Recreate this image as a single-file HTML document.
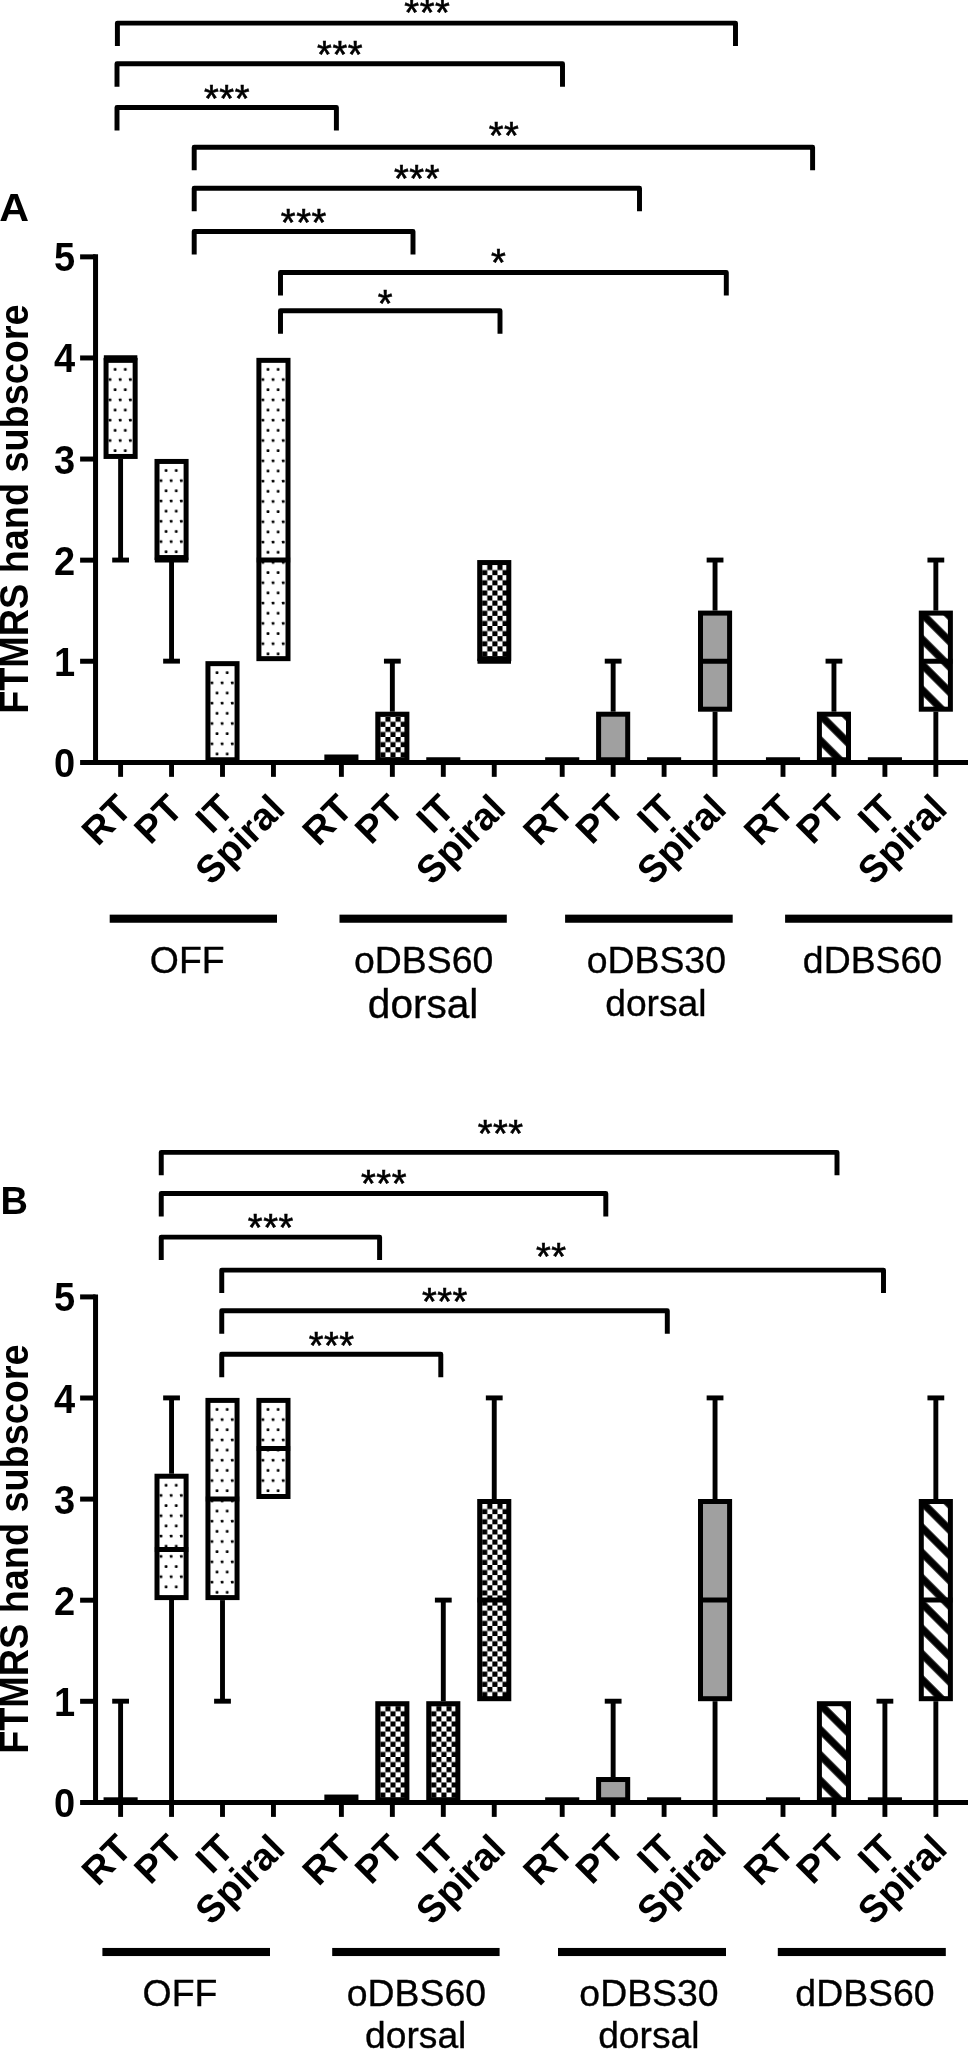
<!DOCTYPE html>
<html lang="en"><head><meta charset="utf-8"><title>FTMRS hand subscore</title>
<style>
html,body{margin:0;padding:0;background:#fff;}
svg{display:block;will-change:transform;font-family:'Liberation Sans', Arial, Helvetica, sans-serif;fill:#000;}
</style></head><body>
<svg width="968" height="2049" viewBox="0 0 968 2049">
<rect width="968" height="2049" fill="#fff"/>
<defs>
<pattern id="p1" patternUnits="userSpaceOnUse" x="107.8" y="363" width="10.16" height="20.32"><rect width="10.16" height="20.32" fill="#fff"/><rect x="5.98" y="4.98" width="2.74" height="2.74" rx="0.6" fill="#000"/><rect x="0.9" y="15.14" width="2.74" height="2.74" rx="0.6" fill="#000"/></pattern>
<pattern id="p2" patternUnits="userSpaceOnUse" x="158.75" y="464.1" width="10.16" height="20.32"><rect width="10.16" height="20.32" fill="#fff"/><rect x="5.98" y="4.98" width="2.74" height="2.74" rx="0.6" fill="#000"/><rect x="0.9" y="15.14" width="2.74" height="2.74" rx="0.6" fill="#000"/></pattern>
<pattern id="p3" patternUnits="userSpaceOnUse" x="209.7" y="666.3" width="10.16" height="20.32"><rect width="10.16" height="20.32" fill="#fff"/><rect x="5.98" y="4.98" width="2.74" height="2.74" rx="0.6" fill="#000"/><rect x="0.9" y="15.14" width="2.74" height="2.74" rx="0.6" fill="#000"/></pattern>
<pattern id="p4" patternUnits="userSpaceOnUse" x="260.65" y="363" width="10.16" height="20.32"><rect width="10.16" height="20.32" fill="#fff"/><rect x="5.98" y="4.98" width="2.74" height="2.74" rx="0.6" fill="#000"/><rect x="0.9" y="15.14" width="2.74" height="2.74" rx="0.6" fill="#000"/></pattern>
<pattern id="p5" patternUnits="userSpaceOnUse" x="380.3" y="716.7" width="10.16" height="10.16"><rect width="10.16" height="10.16" fill="#fff"/><rect x="5.08" y="0" width="5.08" height="5.08" fill="#000"/><rect x="0" y="5.08" width="5.08" height="5.08" fill="#000"/></pattern>
<pattern id="p6" patternUnits="userSpaceOnUse" x="482.2" y="565.05" width="10.16" height="10.16"><rect width="10.16" height="10.16" fill="#fff"/><rect x="5.08" y="0" width="5.08" height="5.08" fill="#000"/><rect x="0" y="5.08" width="5.08" height="5.08" fill="#000"/></pattern>
<pattern id="p7" patternUnits="userSpaceOnUse" width="17.89" height="20" patternTransform="translate(816.9 711.7) rotate(135)"><rect width="17.89" height="20" fill="#fff"/><rect x="0" y="0" width="3.73" height="20" fill="#000"/><rect x="14.16" y="0" width="3.73" height="20" fill="#000"/></pattern>
<pattern id="p8" patternUnits="userSpaceOnUse" width="17.89" height="20" patternTransform="translate(918.8 610.6) rotate(135)"><rect width="17.89" height="20" fill="#fff"/><rect x="0" y="0" width="3.73" height="20" fill="#000"/><rect x="14.16" y="0" width="3.73" height="20" fill="#000"/></pattern>
<pattern id="p9" patternUnits="userSpaceOnUse" x="158.75" y="1478.88" width="10.16" height="20.32"><rect width="10.16" height="20.32" fill="#fff"/><rect x="5.98" y="4.98" width="2.74" height="2.74" rx="0.6" fill="#000"/><rect x="0.9" y="15.14" width="2.74" height="2.74" rx="0.6" fill="#000"/></pattern>
<pattern id="p10" patternUnits="userSpaceOnUse" x="209.7" y="1403.05" width="10.16" height="20.32"><rect width="10.16" height="20.32" fill="#fff"/><rect x="5.98" y="4.98" width="2.74" height="2.74" rx="0.6" fill="#000"/><rect x="0.9" y="15.14" width="2.74" height="2.74" rx="0.6" fill="#000"/></pattern>
<pattern id="p11" patternUnits="userSpaceOnUse" x="260.65" y="1403.05" width="10.16" height="20.32"><rect width="10.16" height="20.32" fill="#fff"/><rect x="5.98" y="4.98" width="2.74" height="2.74" rx="0.6" fill="#000"/><rect x="0.9" y="15.14" width="2.74" height="2.74" rx="0.6" fill="#000"/></pattern>
<pattern id="p12" patternUnits="userSpaceOnUse" x="380.3" y="1706.2" width="10.16" height="10.16"><rect width="10.16" height="10.16" fill="#fff"/><rect x="5.08" y="0" width="5.08" height="5.08" fill="#000"/><rect x="0" y="5.08" width="5.08" height="5.08" fill="#000"/></pattern>
<pattern id="p13" patternUnits="userSpaceOnUse" x="431.25" y="1706.2" width="10.16" height="10.16"><rect width="10.16" height="10.16" fill="#fff"/><rect x="5.08" y="0" width="5.08" height="5.08" fill="#000"/><rect x="0" y="5.08" width="5.08" height="5.08" fill="#000"/></pattern>
<pattern id="p14" patternUnits="userSpaceOnUse" x="482.2" y="1504" width="10.16" height="10.16"><rect width="10.16" height="10.16" fill="#fff"/><rect x="5.08" y="0" width="5.08" height="5.08" fill="#000"/><rect x="0" y="5.08" width="5.08" height="5.08" fill="#000"/></pattern>
<pattern id="p15" patternUnits="userSpaceOnUse" width="17.89" height="20" patternTransform="translate(816.9 1701.2) rotate(135)"><rect width="17.89" height="20" fill="#fff"/><rect x="0" y="0" width="3.73" height="20" fill="#000"/><rect x="14.16" y="0" width="3.73" height="20" fill="#000"/></pattern>
<pattern id="p16" patternUnits="userSpaceOnUse" width="17.89" height="20" patternTransform="translate(918.8 1499) rotate(135)"><rect width="17.89" height="20" fill="#fff"/><rect x="0" y="0" width="3.73" height="20" fill="#000"/><rect x="14.16" y="0" width="3.73" height="20" fill="#000"/></pattern>
</defs>
<line x1="120.6" y1="458.95" x2="120.6" y2="560.05" stroke="#000" stroke-width="4.9"/>
<line x1="112.2" y1="560.05" x2="129" y2="560.05" stroke="#000" stroke-width="4.9"/>
<rect x="106.05" y="360.35" width="29.1" height="96.1" fill="url(#p1)" stroke="#000" stroke-width="5"/>
<line x1="103.85" y1="357.85" x2="137.35" y2="357.85" stroke="#000" stroke-width="5"/>
<line x1="171.55" y1="560.05" x2="171.55" y2="661.15" stroke="#000" stroke-width="4.9"/>
<line x1="163.15" y1="661.15" x2="179.95" y2="661.15" stroke="#000" stroke-width="4.9"/>
<rect x="157" y="461.45" width="29.1" height="96.1" fill="url(#p2)" stroke="#000" stroke-width="5"/>
<line x1="154.8" y1="560.05" x2="188.3" y2="560.05" stroke="#000" stroke-width="5"/>
<rect x="207.95" y="663.65" width="29.1" height="96.1" fill="url(#p3)" stroke="#000" stroke-width="5"/>
<rect x="258.9" y="360.35" width="29.1" height="298.3" fill="url(#p4)" stroke="#000" stroke-width="5"/>
<line x1="256.7" y1="560.05" x2="290.2" y2="560.05" stroke="#000" stroke-width="5"/>
<rect x="324.35" y="754.5" width="34.1" height="7.75" fill="#000"/>
<line x1="392.35" y1="661.15" x2="392.35" y2="711.7" stroke="#000" stroke-width="4.9"/>
<line x1="383.95" y1="661.15" x2="400.75" y2="661.15" stroke="#000" stroke-width="4.9"/>
<rect x="377.8" y="714.2" width="29.1" height="45.55" fill="url(#p5)" stroke="#000" stroke-width="5"/>
<rect x="426.25" y="757.25" width="34.1" height="5" fill="#000"/>
<rect x="479.7" y="562.55" width="29.1" height="96.1" fill="url(#p6)" stroke="#000" stroke-width="5"/>
<line x1="477.5" y1="661.15" x2="511" y2="661.15" stroke="#000" stroke-width="5"/>
<rect x="545.15" y="757.25" width="34.1" height="5" fill="#000"/>
<line x1="613.15" y1="661.15" x2="613.15" y2="711.7" stroke="#000" stroke-width="4.9"/>
<line x1="604.75" y1="661.15" x2="621.55" y2="661.15" stroke="#000" stroke-width="4.9"/>
<rect x="598.6" y="714.2" width="29.1" height="45.55" fill="#a0a0a0" stroke="#000" stroke-width="5"/>
<rect x="647.05" y="757.25" width="34.1" height="5" fill="#000"/>
<line x1="715.05" y1="560.05" x2="715.05" y2="610.6" stroke="#000" stroke-width="4.9"/>
<line x1="706.65" y1="560.05" x2="723.45" y2="560.05" stroke="#000" stroke-width="4.9"/>
<line x1="715.05" y1="711.7" x2="715.05" y2="762.25" stroke="#000" stroke-width="4.9"/>
<rect x="700.5" y="613.1" width="29.1" height="96.1" fill="#a0a0a0" stroke="#000" stroke-width="5"/>
<line x1="698.3" y1="661.15" x2="731.8" y2="661.15" stroke="#000" stroke-width="5"/>
<rect x="765.95" y="757.25" width="34.1" height="5" fill="#000"/>
<line x1="833.95" y1="661.15" x2="833.95" y2="711.7" stroke="#000" stroke-width="4.9"/>
<line x1="825.55" y1="661.15" x2="842.35" y2="661.15" stroke="#000" stroke-width="4.9"/>
<rect x="819.4" y="714.2" width="29.1" height="45.55" fill="url(#p7)" stroke="#000" stroke-width="5"/>
<rect x="867.85" y="757.25" width="34.1" height="5" fill="#000"/>
<line x1="935.85" y1="560.05" x2="935.85" y2="610.6" stroke="#000" stroke-width="4.9"/>
<line x1="927.45" y1="560.05" x2="944.25" y2="560.05" stroke="#000" stroke-width="4.9"/>
<line x1="935.85" y1="711.7" x2="935.85" y2="762.25" stroke="#000" stroke-width="4.9"/>
<rect x="921.3" y="613.1" width="29.1" height="96.1" fill="url(#p8)" stroke="#000" stroke-width="5"/>
<line x1="919.1" y1="661.15" x2="952.6" y2="661.15" stroke="#000" stroke-width="5"/>
<line x1="95.55" y1="254.35" x2="95.55" y2="764.85" stroke="#000" stroke-width="5"/>
<line x1="80.1" y1="762.4" x2="968" y2="762.4" stroke="#000" stroke-width="5"/>
<text transform="translate(75.1 776.85) scale(1 1.07)" font-size="38" font-weight="bold" text-anchor="end">0</text>
<line x1="80.1" y1="661.25" x2="95.5" y2="661.25" stroke="#000" stroke-width="5"/>
<text transform="translate(75.1 675.75) scale(1 1.07)" font-size="38" font-weight="bold" text-anchor="end">1</text>
<line x1="80.1" y1="560.15" x2="95.5" y2="560.15" stroke="#000" stroke-width="5"/>
<text transform="translate(75.1 574.65) scale(1 1.07)" font-size="38" font-weight="bold" text-anchor="end">2</text>
<line x1="80.1" y1="459.05" x2="95.5" y2="459.05" stroke="#000" stroke-width="5"/>
<text transform="translate(75.1 473.55) scale(1 1.07)" font-size="38" font-weight="bold" text-anchor="end">3</text>
<line x1="80.1" y1="357.95" x2="95.5" y2="357.95" stroke="#000" stroke-width="5"/>
<text transform="translate(75.1 372.45) scale(1 1.07)" font-size="38" font-weight="bold" text-anchor="end">4</text>
<line x1="80.1" y1="256.85" x2="95.5" y2="256.85" stroke="#000" stroke-width="5"/>
<text transform="translate(75.1 271.35) scale(1 1.07)" font-size="38" font-weight="bold" text-anchor="end">5</text>
<line x1="120.6" y1="762.25" x2="120.6" y2="776.85" stroke="#000" stroke-width="4.9"/>
<text x="133.9" y="810.95" font-size="38.4" font-weight="bold" text-anchor="end" transform="rotate(-45 133.9 810.95)">RT</text>
<line x1="171.55" y1="762.25" x2="171.55" y2="776.85" stroke="#000" stroke-width="4.9"/>
<text x="184.85" y="810.95" font-size="38.4" font-weight="bold" text-anchor="end" transform="rotate(-45 184.85 810.95)">PT</text>
<line x1="222.5" y1="762.25" x2="222.5" y2="776.85" stroke="#000" stroke-width="4.9"/>
<text x="235.8" y="810.95" font-size="38.4" font-weight="bold" text-anchor="end" transform="rotate(-45 235.8 810.95)">IT</text>
<line x1="273.45" y1="762.25" x2="273.45" y2="776.85" stroke="#000" stroke-width="4.9"/>
<text x="286.75" y="810.95" font-size="38.4" font-weight="bold" text-anchor="end" transform="rotate(-45 286.75 810.95)">Spiral</text>
<line x1="341.4" y1="762.25" x2="341.4" y2="776.85" stroke="#000" stroke-width="4.9"/>
<text x="354.7" y="810.95" font-size="38.4" font-weight="bold" text-anchor="end" transform="rotate(-45 354.7 810.95)">RT</text>
<line x1="392.35" y1="762.25" x2="392.35" y2="776.85" stroke="#000" stroke-width="4.9"/>
<text x="405.65" y="810.95" font-size="38.4" font-weight="bold" text-anchor="end" transform="rotate(-45 405.65 810.95)">PT</text>
<line x1="443.3" y1="762.25" x2="443.3" y2="776.85" stroke="#000" stroke-width="4.9"/>
<text x="456.6" y="810.95" font-size="38.4" font-weight="bold" text-anchor="end" transform="rotate(-45 456.6 810.95)">IT</text>
<line x1="494.25" y1="762.25" x2="494.25" y2="776.85" stroke="#000" stroke-width="4.9"/>
<text x="507.55" y="810.95" font-size="38.4" font-weight="bold" text-anchor="end" transform="rotate(-45 507.55 810.95)">Spiral</text>
<line x1="562.2" y1="762.25" x2="562.2" y2="776.85" stroke="#000" stroke-width="4.9"/>
<text x="575.5" y="810.95" font-size="38.4" font-weight="bold" text-anchor="end" transform="rotate(-45 575.5 810.95)">RT</text>
<line x1="613.15" y1="762.25" x2="613.15" y2="776.85" stroke="#000" stroke-width="4.9"/>
<text x="626.45" y="810.95" font-size="38.4" font-weight="bold" text-anchor="end" transform="rotate(-45 626.45 810.95)">PT</text>
<line x1="664.1" y1="762.25" x2="664.1" y2="776.85" stroke="#000" stroke-width="4.9"/>
<text x="677.4" y="810.95" font-size="38.4" font-weight="bold" text-anchor="end" transform="rotate(-45 677.4 810.95)">IT</text>
<line x1="715.05" y1="762.25" x2="715.05" y2="776.85" stroke="#000" stroke-width="4.9"/>
<text x="728.35" y="810.95" font-size="38.4" font-weight="bold" text-anchor="end" transform="rotate(-45 728.35 810.95)">Spiral</text>
<line x1="783" y1="762.25" x2="783" y2="776.85" stroke="#000" stroke-width="4.9"/>
<text x="796.3" y="810.95" font-size="38.4" font-weight="bold" text-anchor="end" transform="rotate(-45 796.3 810.95)">RT</text>
<line x1="833.95" y1="762.25" x2="833.95" y2="776.85" stroke="#000" stroke-width="4.9"/>
<text x="847.25" y="810.95" font-size="38.4" font-weight="bold" text-anchor="end" transform="rotate(-45 847.25 810.95)">PT</text>
<line x1="884.9" y1="762.25" x2="884.9" y2="776.85" stroke="#000" stroke-width="4.9"/>
<text x="898.2" y="810.95" font-size="38.4" font-weight="bold" text-anchor="end" transform="rotate(-45 898.2 810.95)">IT</text>
<line x1="935.85" y1="762.25" x2="935.85" y2="776.85" stroke="#000" stroke-width="4.9"/>
<text x="949.15" y="810.95" font-size="38.4" font-weight="bold" text-anchor="end" transform="rotate(-45 949.15 810.95)">Spiral</text>
<text transform="translate(28.35 713.8) rotate(-90) scale(1 1.055)" font-size="37.78" font-weight="bold">FTMRS hand subscore</text>
<text transform="translate(-0.8 221.4) scale(1 1.02)" font-size="38" font-weight="bold" textLength="29.8" lengthAdjust="spacingAndGlyphs">A</text>
<path d="M117.4 46.1V23.1H735.5V46.1" fill="none" stroke="#000" stroke-width="4.95" stroke-linejoin="round"/>
<text x="427.3" y="25.85" font-size="38" letter-spacing="0.5" text-anchor="middle" stroke="#000" stroke-width="0.6">***</text>
<path d="M117 86.8V63.8H562.5V86.8" fill="none" stroke="#000" stroke-width="4.95" stroke-linejoin="round"/>
<text x="340.05" y="67.65" font-size="38" letter-spacing="0.5" text-anchor="middle" stroke="#000" stroke-width="0.6">***</text>
<path d="M117 130.4V107.4H336.4V130.4" fill="none" stroke="#000" stroke-width="4.95" stroke-linejoin="round"/>
<text x="227" y="111.75" font-size="38" letter-spacing="0.5" text-anchor="middle" stroke="#000" stroke-width="0.6">***</text>
<path d="M194.2 170.2V147.2H812.6V170.2" fill="none" stroke="#000" stroke-width="4.95" stroke-linejoin="round"/>
<text x="504.1" y="149.1" font-size="38" letter-spacing="0.5" text-anchor="middle" stroke="#000" stroke-width="0.6">**</text>
<path d="M194.2 211.3V188.3H639.5V211.3" fill="none" stroke="#000" stroke-width="4.95" stroke-linejoin="round"/>
<text x="417" y="191.85" font-size="38" letter-spacing="0.5" text-anchor="middle" stroke="#000" stroke-width="0.6">***</text>
<path d="M194.2 254.4V231.4H413V254.4" fill="none" stroke="#000" stroke-width="4.95" stroke-linejoin="round"/>
<text x="303.8" y="235.75" font-size="38" letter-spacing="0.5" text-anchor="middle" stroke="#000" stroke-width="0.6">***</text>
<path d="M280.5 295.4V272.4H726.3V295.4" fill="none" stroke="#000" stroke-width="4.95" stroke-linejoin="round"/>
<text x="498.7" y="276.25" font-size="38" letter-spacing="0.5" text-anchor="middle" stroke="#000" stroke-width="0.6">*</text>
<path d="M280.5 333.8V310.8H500V333.8" fill="none" stroke="#000" stroke-width="4.95" stroke-linejoin="round"/>
<text x="385.4" y="317.35" font-size="38" letter-spacing="0.5" text-anchor="middle" stroke="#000" stroke-width="0.6">*</text>
<rect x="109.7" y="914.65" width="167.3" height="8.1" fill="#000"/>
<text x="187.2" y="972.5" font-size="37.4" stroke="#000" stroke-width="0.35" text-anchor="middle">OFF</text>
<rect x="339.5" y="914.65" width="167.3" height="8.1" fill="#000"/>
<text x="423.6" y="972.6" font-size="37.4" stroke="#000" stroke-width="0.35" text-anchor="middle">oDBS60</text>
<text x="423.1" y="1017.5" font-size="40.6" stroke="#000" stroke-width="0.35" text-anchor="middle">dorsal</text>
<rect x="565.1" y="914.65" width="167.6" height="8.1" fill="#000"/>
<text x="656.3" y="972.6" font-size="37.4" stroke="#000" stroke-width="0.35" text-anchor="middle">oDBS30</text>
<text x="655.9" y="1015.6" font-size="37.2" stroke="#000" stroke-width="0.35" text-anchor="middle">dorsal</text>
<rect x="785.1" y="914.65" width="167.3" height="8.1" fill="#000"/>
<text x="872.5" y="972.6" font-size="37.4" stroke="#000" stroke-width="0.35" text-anchor="middle">dDBS60</text>
<line x1="120.6" y1="1701.2" x2="120.6" y2="1802.3" stroke="#000" stroke-width="4.9"/>
<line x1="112.2" y1="1701.2" x2="129" y2="1701.2" stroke="#000" stroke-width="4.9"/>
<rect x="103.55" y="1797.3" width="34.1" height="5" fill="#000"/>
<line x1="171.55" y1="1397.9" x2="171.55" y2="1473.72" stroke="#000" stroke-width="4.9"/>
<line x1="163.15" y1="1397.9" x2="179.95" y2="1397.9" stroke="#000" stroke-width="4.9"/>
<line x1="171.55" y1="1600.1" x2="171.55" y2="1802.3" stroke="#000" stroke-width="4.9"/>
<rect x="157" y="1476.22" width="29.1" height="121.38" fill="url(#p9)" stroke="#000" stroke-width="5"/>
<line x1="154.8" y1="1549.55" x2="188.3" y2="1549.55" stroke="#000" stroke-width="5"/>
<line x1="222.5" y1="1600.1" x2="222.5" y2="1701.2" stroke="#000" stroke-width="4.9"/>
<line x1="214.1" y1="1701.2" x2="230.9" y2="1701.2" stroke="#000" stroke-width="4.9"/>
<rect x="207.95" y="1400.4" width="29.1" height="197.2" fill="url(#p10)" stroke="#000" stroke-width="5"/>
<line x1="205.75" y1="1499" x2="239.25" y2="1499" stroke="#000" stroke-width="5"/>
<rect x="258.9" y="1400.4" width="29.1" height="96.1" fill="url(#p11)" stroke="#000" stroke-width="5"/>
<line x1="256.7" y1="1448.45" x2="290.2" y2="1448.45" stroke="#000" stroke-width="5"/>
<rect x="324.35" y="1794.55" width="34.1" height="7.75" fill="#000"/>
<rect x="377.8" y="1703.7" width="29.1" height="96.1" fill="url(#p12)" stroke="#000" stroke-width="5"/>
<line x1="443.3" y1="1600.1" x2="443.3" y2="1701.2" stroke="#000" stroke-width="4.9"/>
<line x1="434.9" y1="1600.1" x2="451.7" y2="1600.1" stroke="#000" stroke-width="4.9"/>
<rect x="428.75" y="1703.7" width="29.1" height="96.1" fill="url(#p13)" stroke="#000" stroke-width="5"/>
<line x1="494.25" y1="1397.9" x2="494.25" y2="1499" stroke="#000" stroke-width="4.9"/>
<line x1="485.85" y1="1397.9" x2="502.65" y2="1397.9" stroke="#000" stroke-width="4.9"/>
<rect x="479.7" y="1501.5" width="29.1" height="197.2" fill="url(#p14)" stroke="#000" stroke-width="5"/>
<line x1="477.5" y1="1600.1" x2="511" y2="1600.1" stroke="#000" stroke-width="5"/>
<rect x="545.15" y="1797.3" width="34.1" height="5" fill="#000"/>
<line x1="613.15" y1="1701.2" x2="613.15" y2="1777.02" stroke="#000" stroke-width="4.9"/>
<line x1="604.75" y1="1701.2" x2="621.55" y2="1701.2" stroke="#000" stroke-width="4.9"/>
<rect x="598.6" y="1779.52" width="29.1" height="20.28" fill="#a0a0a0" stroke="#000" stroke-width="5"/>
<rect x="647.05" y="1797.3" width="34.1" height="5" fill="#000"/>
<line x1="715.05" y1="1397.9" x2="715.05" y2="1499" stroke="#000" stroke-width="4.9"/>
<line x1="706.65" y1="1397.9" x2="723.45" y2="1397.9" stroke="#000" stroke-width="4.9"/>
<line x1="715.05" y1="1701.2" x2="715.05" y2="1802.3" stroke="#000" stroke-width="4.9"/>
<rect x="700.5" y="1501.5" width="29.1" height="197.2" fill="#a0a0a0" stroke="#000" stroke-width="5"/>
<line x1="698.3" y1="1600.1" x2="731.8" y2="1600.1" stroke="#000" stroke-width="5"/>
<rect x="765.95" y="1797.3" width="34.1" height="5" fill="#000"/>
<rect x="819.4" y="1703.7" width="29.1" height="96.1" fill="url(#p15)" stroke="#000" stroke-width="5"/>
<line x1="884.9" y1="1701.2" x2="884.9" y2="1802.3" stroke="#000" stroke-width="4.9"/>
<line x1="876.5" y1="1701.2" x2="893.3" y2="1701.2" stroke="#000" stroke-width="4.9"/>
<rect x="867.85" y="1797.3" width="34.1" height="5" fill="#000"/>
<line x1="935.85" y1="1397.9" x2="935.85" y2="1499" stroke="#000" stroke-width="4.9"/>
<line x1="927.45" y1="1397.9" x2="944.25" y2="1397.9" stroke="#000" stroke-width="4.9"/>
<line x1="935.85" y1="1701.2" x2="935.85" y2="1802.3" stroke="#000" stroke-width="4.9"/>
<rect x="921.3" y="1501.5" width="29.1" height="197.2" fill="url(#p16)" stroke="#000" stroke-width="5"/>
<line x1="919.1" y1="1600.1" x2="952.6" y2="1600.1" stroke="#000" stroke-width="5"/>
<line x1="95.55" y1="1294.4" x2="95.55" y2="1804.9" stroke="#000" stroke-width="5"/>
<line x1="80.1" y1="1802.45" x2="968" y2="1802.45" stroke="#000" stroke-width="5"/>
<text transform="translate(75.1 1816.9) scale(1 1.07)" font-size="38" font-weight="bold" text-anchor="end">0</text>
<line x1="80.1" y1="1701.3" x2="95.5" y2="1701.3" stroke="#000" stroke-width="5"/>
<text transform="translate(75.1 1715.8) scale(1 1.07)" font-size="38" font-weight="bold" text-anchor="end">1</text>
<line x1="80.1" y1="1600.2" x2="95.5" y2="1600.2" stroke="#000" stroke-width="5"/>
<text transform="translate(75.1 1614.7) scale(1 1.07)" font-size="38" font-weight="bold" text-anchor="end">2</text>
<line x1="80.1" y1="1499.1" x2="95.5" y2="1499.1" stroke="#000" stroke-width="5"/>
<text transform="translate(75.1 1513.6) scale(1 1.07)" font-size="38" font-weight="bold" text-anchor="end">3</text>
<line x1="80.1" y1="1398" x2="95.5" y2="1398" stroke="#000" stroke-width="5"/>
<text transform="translate(75.1 1412.5) scale(1 1.07)" font-size="38" font-weight="bold" text-anchor="end">4</text>
<line x1="80.1" y1="1296.9" x2="95.5" y2="1296.9" stroke="#000" stroke-width="5"/>
<text transform="translate(75.1 1311.4) scale(1 1.07)" font-size="38" font-weight="bold" text-anchor="end">5</text>
<line x1="120.6" y1="1802.3" x2="120.6" y2="1816.9" stroke="#000" stroke-width="4.9"/>
<text x="133.9" y="1851" font-size="38.4" font-weight="bold" text-anchor="end" transform="rotate(-45 133.9 1851)">RT</text>
<line x1="171.55" y1="1802.3" x2="171.55" y2="1816.9" stroke="#000" stroke-width="4.9"/>
<text x="184.85" y="1851" font-size="38.4" font-weight="bold" text-anchor="end" transform="rotate(-45 184.85 1851)">PT</text>
<line x1="222.5" y1="1802.3" x2="222.5" y2="1816.9" stroke="#000" stroke-width="4.9"/>
<text x="235.8" y="1851" font-size="38.4" font-weight="bold" text-anchor="end" transform="rotate(-45 235.8 1851)">IT</text>
<line x1="273.45" y1="1802.3" x2="273.45" y2="1816.9" stroke="#000" stroke-width="4.9"/>
<text x="286.75" y="1851" font-size="38.4" font-weight="bold" text-anchor="end" transform="rotate(-45 286.75 1851)">Spiral</text>
<line x1="341.4" y1="1802.3" x2="341.4" y2="1816.9" stroke="#000" stroke-width="4.9"/>
<text x="354.7" y="1851" font-size="38.4" font-weight="bold" text-anchor="end" transform="rotate(-45 354.7 1851)">RT</text>
<line x1="392.35" y1="1802.3" x2="392.35" y2="1816.9" stroke="#000" stroke-width="4.9"/>
<text x="405.65" y="1851" font-size="38.4" font-weight="bold" text-anchor="end" transform="rotate(-45 405.65 1851)">PT</text>
<line x1="443.3" y1="1802.3" x2="443.3" y2="1816.9" stroke="#000" stroke-width="4.9"/>
<text x="456.6" y="1851" font-size="38.4" font-weight="bold" text-anchor="end" transform="rotate(-45 456.6 1851)">IT</text>
<line x1="494.25" y1="1802.3" x2="494.25" y2="1816.9" stroke="#000" stroke-width="4.9"/>
<text x="507.55" y="1851" font-size="38.4" font-weight="bold" text-anchor="end" transform="rotate(-45 507.55 1851)">Spiral</text>
<line x1="562.2" y1="1802.3" x2="562.2" y2="1816.9" stroke="#000" stroke-width="4.9"/>
<text x="575.5" y="1851" font-size="38.4" font-weight="bold" text-anchor="end" transform="rotate(-45 575.5 1851)">RT</text>
<line x1="613.15" y1="1802.3" x2="613.15" y2="1816.9" stroke="#000" stroke-width="4.9"/>
<text x="626.45" y="1851" font-size="38.4" font-weight="bold" text-anchor="end" transform="rotate(-45 626.45 1851)">PT</text>
<line x1="664.1" y1="1802.3" x2="664.1" y2="1816.9" stroke="#000" stroke-width="4.9"/>
<text x="677.4" y="1851" font-size="38.4" font-weight="bold" text-anchor="end" transform="rotate(-45 677.4 1851)">IT</text>
<line x1="715.05" y1="1802.3" x2="715.05" y2="1816.9" stroke="#000" stroke-width="4.9"/>
<text x="728.35" y="1851" font-size="38.4" font-weight="bold" text-anchor="end" transform="rotate(-45 728.35 1851)">Spiral</text>
<line x1="783" y1="1802.3" x2="783" y2="1816.9" stroke="#000" stroke-width="4.9"/>
<text x="796.3" y="1851" font-size="38.4" font-weight="bold" text-anchor="end" transform="rotate(-45 796.3 1851)">RT</text>
<line x1="833.95" y1="1802.3" x2="833.95" y2="1816.9" stroke="#000" stroke-width="4.9"/>
<text x="847.25" y="1851" font-size="38.4" font-weight="bold" text-anchor="end" transform="rotate(-45 847.25 1851)">PT</text>
<line x1="884.9" y1="1802.3" x2="884.9" y2="1816.9" stroke="#000" stroke-width="4.9"/>
<text x="898.2" y="1851" font-size="38.4" font-weight="bold" text-anchor="end" transform="rotate(-45 898.2 1851)">IT</text>
<line x1="935.85" y1="1802.3" x2="935.85" y2="1816.9" stroke="#000" stroke-width="4.9"/>
<text x="949.15" y="1851" font-size="38.4" font-weight="bold" text-anchor="end" transform="rotate(-45 949.15 1851)">Spiral</text>
<text transform="translate(28.35 1753.8) rotate(-90) scale(1 1.055)" font-size="37.78" font-weight="bold">FTMRS hand subscore</text>
<text transform="translate(0.4 1214.3) scale(1 1.02)" font-size="38" font-weight="bold">B</text>
<path d="M161.25 1175.35V1152.35H837V1175.35" fill="none" stroke="#000" stroke-width="4.95" stroke-linejoin="round"/>
<text x="500.6" y="1147.35" font-size="38" letter-spacing="0.5" text-anchor="middle" stroke="#000" stroke-width="0.6">***</text>
<path d="M161.25 1216.4V1193.4H605.8V1216.4" fill="none" stroke="#000" stroke-width="4.95" stroke-linejoin="round"/>
<text x="384" y="1197.15" font-size="38" letter-spacing="0.5" text-anchor="middle" stroke="#000" stroke-width="0.6">***</text>
<path d="M161.25 1260.1V1237.1H379.6V1260.1" fill="none" stroke="#000" stroke-width="4.95" stroke-linejoin="round"/>
<text x="270.8" y="1241.05" font-size="38" letter-spacing="0.5" text-anchor="middle" stroke="#000" stroke-width="0.6">***</text>
<path d="M221.75 1293.1V1270.1H883.5V1293.1" fill="none" stroke="#000" stroke-width="4.95" stroke-linejoin="round"/>
<text x="551.35" y="1269.65" font-size="38" letter-spacing="0.5" text-anchor="middle" stroke="#000" stroke-width="0.6">**</text>
<path d="M221.75 1333.75V1310.75H667.3V1333.75" fill="none" stroke="#000" stroke-width="4.95" stroke-linejoin="round"/>
<text x="444.9" y="1314.65" font-size="38" letter-spacing="0.5" text-anchor="middle" stroke="#000" stroke-width="0.6">***</text>
<path d="M221.75 1377.3V1354.3H440.8V1377.3" fill="none" stroke="#000" stroke-width="4.95" stroke-linejoin="round"/>
<text x="331.65" y="1358.75" font-size="38" letter-spacing="0.5" text-anchor="middle" stroke="#000" stroke-width="0.6">***</text>
<rect x="102.4" y="1947.95" width="167.6" height="8.1" fill="#000"/>
<text x="180" y="2005.6" font-size="37.4" stroke="#000" stroke-width="0.35" text-anchor="middle">OFF</text>
<rect x="332.2" y="1947.95" width="167.4" height="8.1" fill="#000"/>
<text x="416.4" y="2005.6" font-size="37.4" stroke="#000" stroke-width="0.35" text-anchor="middle">oDBS60</text>
<text x="415.7" y="2048.2" font-size="37.2" stroke="#000" stroke-width="0.35" text-anchor="middle">dorsal</text>
<rect x="558" y="1947.95" width="168" height="8.1" fill="#000"/>
<text x="649" y="2005.6" font-size="37.4" stroke="#000" stroke-width="0.35" text-anchor="middle">oDBS30</text>
<text x="648.8" y="2048.2" font-size="37.2" stroke="#000" stroke-width="0.35" text-anchor="middle">dorsal</text>
<rect x="777.8" y="1947.95" width="168" height="8.1" fill="#000"/>
<text x="865" y="2005.6" font-size="37.4" stroke="#000" stroke-width="0.35" text-anchor="middle">dDBS60</text>
</svg>
</body></html>
